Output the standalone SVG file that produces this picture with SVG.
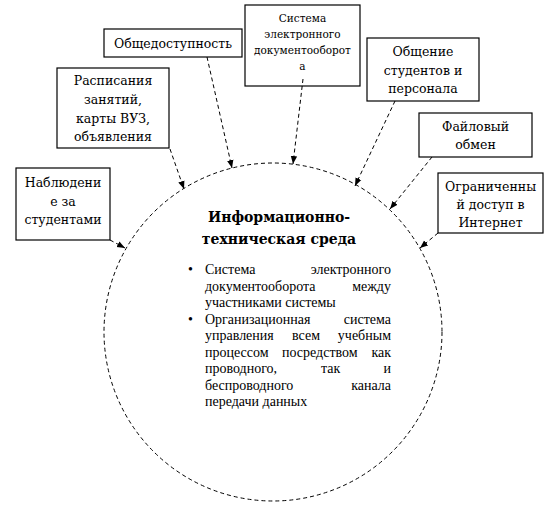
<svg xmlns="http://www.w3.org/2000/svg" width="559" height="508" viewBox="0 0 559 508">
<style>
.box{fill:#fff;stroke:#000;stroke-width:1.2}
.bt{font-family:"DejaVu Serif","Liberation Serif",serif;font-size:12.5px;text-anchor:middle;fill:#000}
.sm{font-size:10.5px}
.conn line{stroke:#000;stroke-width:1;stroke-dasharray:4 3;marker-end:url(#ah)}
.circ{fill:none;stroke:#000;stroke-width:1;stroke-dasharray:4 3}
.ttl{font-family:"DejaVu Serif","Liberation Serif",serif;font-size:14px;font-weight:bold;text-anchor:middle}
.bl{font-family:"Liberation Serif","Times New Roman",serif;font-size:14px;fill:#000}
.r{text-anchor:end}
</style>
<defs>
<marker id="ah" markerUnits="userSpaceOnUse" markerWidth="8" markerHeight="8" viewBox="0 0 8 8" refX="8" refY="4" orient="auto">
<path d="M0,0.8 L8,4 L0,7.2 Z" fill="#000"/>
</marker>
</defs>
<rect width="559" height="508" fill="#fff"/>
<g id="center">
<circle class="circ" cx="273" cy="332" r="169"/>
<text class="ttl" x="279" y="222">Информационно-</text>
<text class="ttl" x="279" y="244">техническая среда</text>
<text class="bl" x="188" y="274">•</text>
<text class="bl" x="188" y="324">•</text>
<text class="bl" x="205" y="274">Система</text><text class="bl r" x="391" y="274">электронного</text>
<text class="bl" x="205" y="291">документооборота</text><text class="bl r" x="391" y="291">между</text>
<text class="bl" x="205" y="307">участниками системы</text>
<text class="bl" x="205" y="324">Организационная</text><text class="bl r" x="391" y="324">система</text>
<text class="bl" x="205" y="340">управления</text><text class="bl" x="292" y="340">всем</text><text class="bl r" x="391" y="340">учебным</text>
<text class="bl" x="205" y="357">процессом</text><text class="bl" x="282" y="357">посредством</text><text class="bl r" x="391" y="357">как</text>
<text class="bl" x="205" y="373">проводного,</text><text class="bl" x="321" y="373">так</text><text class="bl r" x="391" y="373">и</text>
<text class="bl" x="205" y="390">беспроводного</text><text class="bl r" x="391" y="390">канала</text>
<text class="bl" x="205" y="406">передачи данных</text>
</g>
<g id="n1">
<rect class="box" x="16" y="168" width="94" height="72"/>
<text class="bt" x="63" y="187">Наблюдени</text>
<text class="bt" x="63" y="206">е за</text>
<text class="bt" x="63" y="224">студентами</text>
</g>
<g id="n2">
<rect class="box" x="57" y="68" width="112" height="80"/>
<text class="bt" x="113" y="85">Расписания</text>
<text class="bt" x="113" y="104">занятий,</text>
<text class="bt" x="113" y="123">карты ВУЗ,</text>
<text class="bt" x="113" y="141">объявления</text>
</g>
<g id="n3">
<rect class="box" x="104" y="29" width="138" height="28"/>
<text class="bt" x="173" y="48">Общедоступность</text>
</g>
<g id="n4">
<rect class="box" x="245" y="5" width="115" height="81"/>
<text class="bt sm" x="302.5" y="22">Система</text>
<text class="bt sm" x="302.5" y="38">электронного</text>
<text class="bt sm" x="302.5" y="54">документооборот</text>
<text class="bt sm" x="302.5" y="70">а</text>
</g>
<g id="n5">
<rect class="box" x="367" y="38" width="112" height="63"/>
<text class="bt" x="423" y="56">Общение</text>
<text class="bt" x="423" y="75">студентов и</text>
<text class="bt" x="423" y="93">персонала</text>
</g>
<g id="n6">
<rect class="box" x="419" y="113" width="113" height="44"/>
<text class="bt" x="475.5" y="131">Файловый</text>
<text class="bt" x="475.5" y="149">обмен</text>
</g>
<g id="n7">
<rect class="box" x="438" y="173" width="105" height="60"/>
<text class="bt" x="490.5" y="191">Ограниченны</text>
<text class="bt" x="490.5" y="209">й доступ в</text>
<text class="bt" x="490.5" y="227">Интернет</text>
</g>
<g class="conn" id="connectors">
<line x1="110" y1="240" x2="125" y2="248"/>
<line x1="170" y1="149" x2="184" y2="189"/>
<line x1="207" y1="57" x2="232" y2="168"/>
<line x1="303" y1="79" x2="293" y2="164"/>
<line x1="395" y1="101" x2="355" y2="186"/>
<line x1="432" y1="157" x2="390" y2="209"/>
<line x1="438" y1="233" x2="420" y2="248"/>
</g>
</svg>
